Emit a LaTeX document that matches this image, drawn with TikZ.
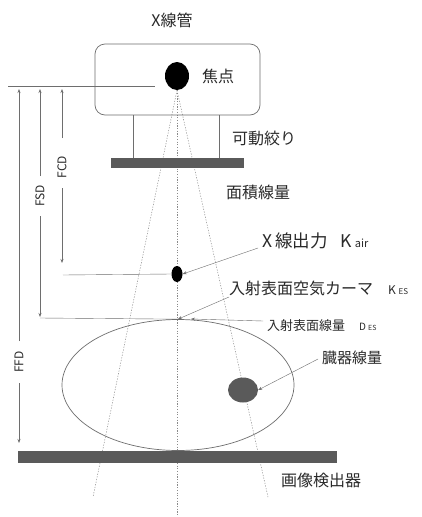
\documentclass[tikz,border=0pt]{standalone}
\usepackage{fontspec}
\setmainfont{Noto Sans CJK JP}
\usetikzlibrary{shapes.geometric,arrows.meta}
\definecolor{txt}{HTML}{2A2A2A}
\definecolor{lc}{HTML}{6E6E6E}
\definecolor{rc}{HTML}{8A8A8A}
\definecolor{bc}{HTML}{5A5A5A}
\tikzset{
 lbl/.style={anchor=west, inner sep=0pt, text=txt, font=\fontsize{16}{18}\selectfont},
 dimlbl/.style={rotate=90, inner sep=0pt, text=txt, font=\fontsize{12}{14}\selectfont},
 gline/.style={draw=lc, line width=0.6pt},
 ray/.style={draw=rc, line width=0.5pt, dash pattern=on 1.2pt off 1.5pt},
 tipend/.style={-{Stealth[length=4pt,width=3pt]}},
 bar/.style={fill=bc, draw=none, inner sep=0pt},
}
\begin{document}
\begin{tikzpicture}[x=1pt,y=-1pt]
\useasboundingbox[fill=white] (0,0) rectangle (422,517);
% rays
\node[draw=none, inner sep=0pt, minimum width=24pt, minimum height=28pt, ellipse] (focusbg) at (177,76) {};
\coordinate (rl) at (93,497);
\coordinate (rr) at (268,497);
\coordinate (rc) at (177,517);
\draw[ray] (focusbg.south) -- (rl);
\draw[ray] (focusbg.south) -- (rr);
\draw[ray] (focusbg.south) -- (rc);
% tube
\node[draw=lc, line width=0.7pt, rounded corners=10pt, minimum width=165pt, minimum height=71pt, inner sep=0pt] (tube) at (177.5,79.5) {};
\node[lbl, anchor=center] (tubelbl) at (172,20) {X線管};
\node[ellipse, fill=black, inner sep=0pt, minimum width=24pt, minimum height=28pt] (focus) at (177,76) {};
\node[lbl] (focuslbl) at (202,76) {焦点};
% collimator
\node[bar, minimum width=133pt, minimum height=10pt] (colli) at (177.5,163) {};
\draw[gline] (133,115) -- (133,158);
\draw[gline] (219,115) -- (219,158);
\node[lbl] (collilbl) at (232,138) {可動絞り};
\node[lbl] (daplbl) at (226,192) {面積線量};
% reference line
\coordinate (ref0) at (8,86);
\coordinate (ref1) at (155,86);
\draw[gline] (ref0) -- (ref1);
% FCD
\node[dimlbl] (fcd) at (62,167) {FCD};
\draw[gline, tipend] (62,138) -- (62,89);
\draw[gline, tipend] (62,188) -- (62,263);
% FSD
\node[dimlbl] (fsd) at (40,196) {FSD};
\draw[gline, tipend] (40,176) -- (40,89);
\draw[gline, tipend] (40,216) -- (40,317);
% FFD
\node[dimlbl] (ffd) at (19,362) {FFD};
\draw[gline, tipend] (19,341) -- (19,89);
\draw[gline, tipend] (19,383) -- (19,443);
% Kair point
\node[ellipse, fill=black, inner sep=0pt, minimum width=11pt, minimum height=16pt] (kdot) at (177,274) {};
\draw[gline, line width=0.4pt] (63,275) -- (kdot.west);
\node[lbl] (kairlbl) at (262,241) {\fontsize{17.5}{18}\selectfont X\,線出力\hspace{13pt}K\,{\fontsize{11}{12}\selectfont air}};
\coordinate (kairfrom) at (258,248);
\draw[gline, line width=0.4pt, tipend] (kairfrom) -- (kdot.east);
% body
\node[ellipse, draw=lc, line width=0.7pt, inner sep=0pt, minimum width=232pt, minimum height=131pt] (body) at (178,385) {};
\draw[gline, line width=0.4pt] (40,318) -- (body.north);
\node[lbl] (keslbl) at (229,288) {入射表面空気カーマ\hspace{15pt}{\fontsize{12}{14}\selectfont K}\,{\fontsize{8}{9}\selectfont ES}};
\coordinate (kesfrom) at (229,297);
\draw[gline, line width=0.4pt, tipend] (kesfrom) -- (body.north);
\node[lbl, font=\fontsize{13}{15}\selectfont] (deslbl) at (267,326) {入射表面線量\hspace{14pt}{\fontsize{10}{12}\selectfont D}\,{\fontsize{7}{8}\selectfont ES}};
\coordinate (desfrom) at (263,321);
\coordinate (desto) at (191,319);
\draw[gline, line width=0.4pt, tipend] (desfrom) -- (desto);
% organ
\node[ellipse, fill=bc, inner sep=0pt, minimum width=30pt, minimum height=25pt] (organ) at (243,390) {};
\node[lbl, font=\fontsize{15}{17}\selectfont] (organlbl) at (322,358) {臓器線量};
\coordinate (organfrom) at (318,359);
\draw[gline, line width=0.4pt, tipend] (organfrom) -- (organ.east);
% detector
\node[bar, minimum width=319pt, minimum height=12pt] (det) at (177.5,457) {};
\node[lbl] (detlbl) at (281,480) {画像検出器};
\end{tikzpicture}
\end{document}
